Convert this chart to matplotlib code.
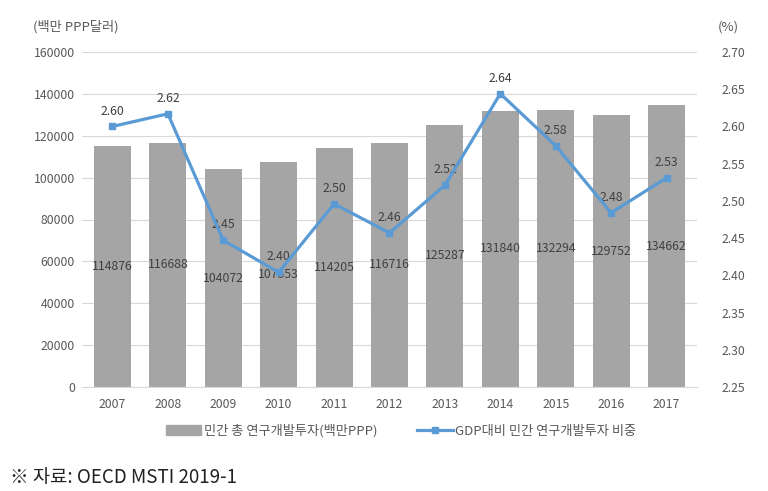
import matplotlib
matplotlib.use('Agg')
import matplotlib.pyplot as plt
from matplotlib.lines import Line2D
from matplotlib.patches import Patch

plt.rcParams['font.family'] = ['Noto Sans CJK KR', 'DejaVu Sans']

years = ['2007', '2008', '2009', '2010', '2011', '2012', '2013', '2014', '2015', '2016', '2017']
rnd = [114876, 116688, 104072, 107553, 114205, 116716, 125287, 131840, 132294, 129752, 134662]
share = [2.60, 2.617, 2.447, 2.404, 2.496, 2.457, 2.521, 2.644, 2.574, 2.484, 2.531]
share_labels = ['2.60', '2.62', '2.45', '2.40', '2.50', '2.46', '2.52', '2.64', '2.58', '2.48', '2.53']

txt = '#595959'
bar_c = '#A5A5A5'
line_c = '#5B9BD5'

fig = plt.figure(figsize=(7.68, 4.91), dpi=100)
ax = fig.add_axes([82 / 768, 1 - 387 / 491, 615 / 768, 335 / 491])
ax2 = ax.twinx()

x = list(range(len(years)))
ax.bar(x, rnd, width=0.67, color=bar_c, zorder=2)
for i, v in enumerate(rnd):
    ax.text(i, v / 2, str(v), ha='center', va='center', fontsize=8.8, color='#404040', zorder=3)

ax.set_ylim(0, 160000)
ax.set_yticks(range(0, 160001, 20000))
ax.set_xlim(-0.55, len(years) - 0.45)
ax.set_xticks(x)
ax.set_xticklabels(years)
ax.grid(axis='y', color='#D9D9D9', linewidth=0.8, zorder=0)
ax.set_axisbelow(True)

ax2.plot(x, share, color=line_c, linewidth=2.3, marker='s', markersize=5, zorder=4)
for i, v in enumerate(share):
    ax2.text(i, v + 0.012, share_labels[i], ha='center', va='bottom', fontsize=8.8, color='#404040')
ax2.set_ylim(2.25, 2.70)
ax2.set_yticks([2.25 + 0.05 * k for k in range(10)])
ax2.set_yticklabels(['%.2f' % (2.25 + 0.05 * k) for k in range(10)])

for a in (ax, ax2):
    for s in a.spines.values():
        s.set_visible(False)
    a.tick_params(length=0, labelsize=8.8, colors=txt)
ax.spines['bottom'].set_visible(True)
ax.spines['bottom'].set_color('#D9D9D9')
ax.tick_params(axis='y', pad=5)
ax2.tick_params(axis='y', pad=18)
ax.tick_params(axis='x', pad=8)

fig.text(33 / 768, 1 - 27 / 491, '(백만 PPP달러)', fontsize=9.5, color=txt, va='center', ha='left')
fig.text(718 / 768, 1 - 27 / 491, '(%)', fontsize=9.5, color=txt, va='center', ha='left')

handles = [Patch(color=bar_c), Line2D([], [], color=line_c, linewidth=2.3, marker='s', markersize=5)]
fig.legend(handles, ['민간 총 연구개발투자(백만PPP)', 'GDP대비 민간 연구개발투자 비중'],
           loc='center', bbox_to_anchor=(401 / 768, 1 - 431 / 491), ncol=2, frameon=False,
           fontsize=9.5, labelcolor=txt, handlelength=2.7, columnspacing=3.0, handletextpad=0.2)

fig.text(10 / 768, 1 - 478 / 491, '※ 자료: OECD MSTI 2019-1', fontsize=13.5, color='#222222', va='center', ha='left')

fig.savefig('out.png', dpi=100)
